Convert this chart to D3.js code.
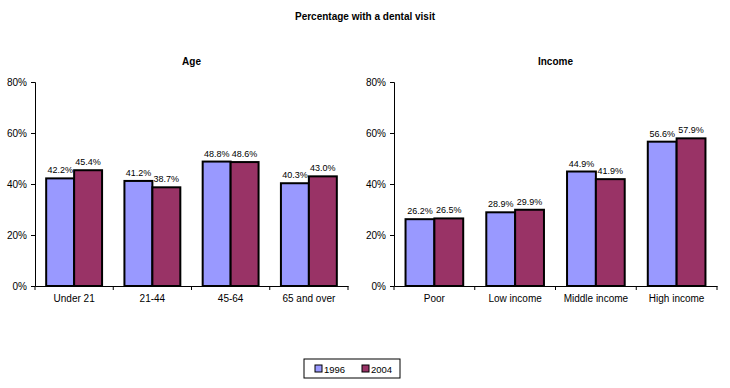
<!DOCTYPE html>
<html>
<head>
<meta charset="utf-8">
<script src="https://cdn.jsdelivr.net/npm/d3@7"></script>
<style>
body { margin:0; background:#fff; }
text { font-family: "Liberation Sans", Arial, sans-serif; fill:#000; }
</style>
</head>
<body>
<script>
var ageCats = ['Under 21', '21-44', '45-64', '65 and over'];
var age1996 = [42.2, 41.2, 48.8, 40.3];
var age2004 = [45.4, 38.7, 48.6, 43.0];

var incomeCats = ['Poor', 'Low income', 'Middle income', 'High income'];
var income1996 = [26.2, 28.9, 44.9, 56.6];
var income2004 = [26.5, 29.9, 41.9, 57.9];

var years = ['1996', '2004'];
var colors = ['#9999ff', '#993366'];
var yTicks = [0, 20, 40, 60, 80];

var width = 730, height = 388;

var svg = d3.select("body").append("svg").attr("width", width).attr("height", height);

svg.append("text").attr("x", 365).attr("y", 20).attr("text-anchor","middle")
   .attr("font-size", 10).attr("font-weight","bold").text("Percentage with a dental visit");

function panel(title, cats, s1, s2, left, right) {
  var top = 82, bottom = 286;
  var y = d3.scaleLinear().domain([0, 80]).range([bottom, top]);
  var x = d3.scaleBand().domain(cats).range([left, right]).paddingInner(0).paddingOuter(0);
  var inner = d3.scaleBand().domain(years).range([0, x.bandwidth()]).paddingOuter(0.4).paddingInner(0);

  var g = svg.append("g");

  g.append("text").attr("x", (left + right) / 2).attr("y", 65).attr("text-anchor","middle")
   .attr("font-size", 10).attr("font-weight","bold").text(title);

  var yAxis = d3.axisLeft(y).tickValues(yTicks).tickFormat(function(d){ return d + "%"; })
                .tickSize(4).tickPadding(4);
  var ya = g.append("g").attr("transform","translate(" + left + ",0)").call(yAxis);
  ya.selectAll("text").attr("font-size", 10);

  var xAxis = d3.axisBottom(x).tickSize(0).tickPadding(9);
  var xa = g.append("g").attr("transform","translate(0," + bottom + ")").call(xAxis);
  xa.selectAll("text").attr("font-size", 10);
  // boundary ticks between categories
  var bounds = [left].concat(cats.map(function(c){ return x(c) + x.bandwidth(); }));
  xa.selectAll(".bnd").data(bounds).enter().append("line")
    .attr("x1", function(d){ return d; }).attr("x2", function(d){ return d; })
    .attr("y1", 0).attr("y2", 4).attr("stroke","#000");
  g.selectAll(".domain").attr("stroke","#000");

  [s1, s2].forEach(function(series, si) {
    var bars = g.selectAll(".bar" + si).data(series).enter();
    bars.append("rect")
      .attr("x", function(d, i){ return x(cats[i]) + inner(years[si]); })
      .attr("y", function(d){ return y(d); })
      .attr("width", inner.bandwidth())
      .attr("height", function(d){ return y(0) - y(d); })
      .attr("fill", colors[si]).attr("stroke","#000").attr("stroke-width", 2);
    bars.append("text")
      .attr("x", function(d, i){ return x(cats[i]) + inner(years[si]) + inner.bandwidth() / 2; })
      .attr("y", function(d){ return y(d) - 5; })
      .attr("text-anchor","middle").attr("font-size", 9)
      .text(function(d){ return d.toFixed(1) + "%"; });
  });
}

panel("Age", ageCats, age1996, age2004, 35, 348);
panel("Income", incomeCats, income1996, income2004, 394, 717);

// legend
var lg = svg.append("g").attr("transform","translate(304,359)");
lg.append("rect").attr("width", 96).attr("height", 19).attr("fill","#fff").attr("stroke","#000");
years.forEach(function(yr, i) {
  lg.append("rect").attr("x", 11 + i * 47).attr("y", 6).attr("width", 7).attr("height", 7)
    .attr("fill", colors[i]).attr("stroke","#000");
  lg.append("text").attr("x", 20 + i * 47).attr("y", 13.5).attr("font-size", 9.5).text(yr);
});
</script>
</body>
</html>
